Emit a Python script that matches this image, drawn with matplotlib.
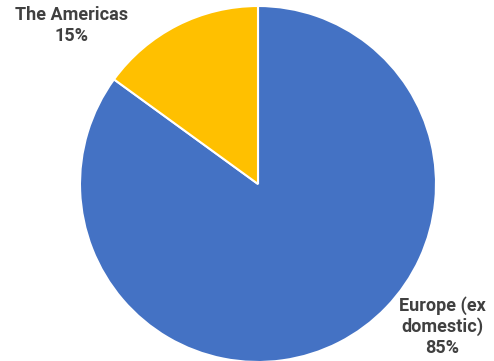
import numpy as np
import matplotlib.pyplot as plt

regions = ["Europe (ex\ndomestic)", "The Americas"]
shares = [85, 15]
colours = ["#4472C4", "#FFC000"]

# where each label block sits, in units of the pie radius
label_pos = [(1.035, -0.80), (-1.047, 0.892)]

W, H = 494, 361
cx, cy, r = 258, 184, 178

fig = plt.figure(figsize=(W / 100, H / 100), dpi=100)
ax = fig.add_axes([(cx - r) / W, (H - cy - r) / H, 2 * r / W, 2 * r / H])

ax.pie(shares, colors=colours, startangle=90, counterclock=False,
       radius=1, wedgeprops=dict(edgecolor="white", linewidth=1.5))

for name, val, (x, y) in zip(regions, shares, label_pos):
    ax.text(x, y, name + "\n" + str(val) + "%", ha="center", va="center",
            fontsize=13, fontweight="bold", family="Roboto", color="#404040",
            linespacing=1.2)

ax.set_xlim(-1, 1)
ax.set_ylim(-1, 1)
ax.set_aspect("equal")
ax.axis("off")

fig.savefig("out.png", dpi=100)
